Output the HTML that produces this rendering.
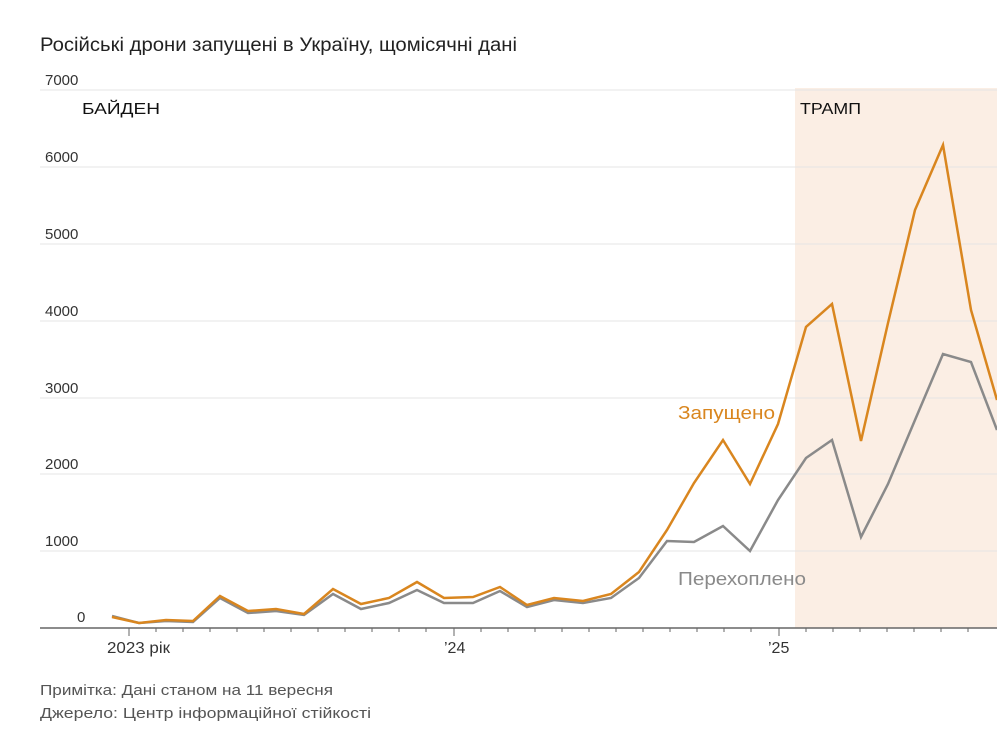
<!DOCTYPE html>
<html><head><meta charset="utf-8"><style>
body{margin:0;background:#fff;font-family:"Liberation Sans",sans-serif;}
</style></head><body>
<svg width="997" height="732" xmlns="http://www.w3.org/2000/svg" font-family="Liberation Sans, sans-serif">
<rect x="795" y="88" width="202" height="540" fill="#fbeee4"/>
<text x="40" y="51" font-size="19" fill="#222" textLength="477" lengthAdjust="spacingAndGlyphs">Російські дрони запущені в Україну, щомісячні дані</text>
<g stroke="#e4e4e4" stroke-width="1">
<line x1="40" x2="997" y1="90" y2="90"/><line x1="40" x2="997" y1="167" y2="167"/>
<line x1="40" x2="997" y1="244" y2="244"/><line x1="40" x2="997" y1="321" y2="321"/>
<line x1="40" x2="997" y1="398" y2="398"/><line x1="40" x2="997" y1="474" y2="474"/>
<line x1="40" x2="997" y1="551" y2="551"/>
</g>
<g font-size="15" fill="#333">
<text x="45" y="85">7000</text><text x="45" y="162">6000</text><text x="45" y="239">5000</text>
<text x="45" y="316">4000</text><text x="45" y="393">3000</text><text x="45" y="469">2000</text>
<text x="45" y="546">1000</text><text x="77" y="622">0</text>
</g>
<text x="82" y="114" font-size="16" fill="#111" textLength="78" lengthAdjust="spacingAndGlyphs">БАЙДЕН</text>
<text x="800" y="114" font-size="16" fill="#111" textLength="61" lengthAdjust="spacingAndGlyphs">ТРАМП</text>
<line x1="40" x2="997" y1="628" y2="628" stroke="#666" stroke-width="1.5"/>
<g stroke="#666" stroke-width="1">
<path d="M129 628v8M454 628v8M779 628v8"/>
<path d="M156 628v4M183 628v4M210 628v4M237 628v4M264 628v4M291 628v4M318 628v4M345 628v4M372 628v4M399 628v4M426 628v4M481 628v4M508 628v4M535 628v4M562 628v4M589 628v4M616 628v4M643 628v4M670 628v4M697 628v4M724 628v4M751 628v4M806 628v4M833 628v4M860 628v4M887 628v4M914 628v4M941 628v4M968 628v4"/>
</g>
<g font-size="16" fill="#333">
<text x="107" y="653" textLength="63" lengthAdjust="spacingAndGlyphs">2023 рік</text><text x="444" y="653">’24</text><text x="768" y="653">’25</text>
</g>
<polyline fill="none" stroke="#8a8a8a" stroke-width="2.5" points="112,616 139,623 166,621 193,622 220,598 248,613 276,611 304,615 333,594 361,609 389,603 417,590 444,603 473,603 500,591 527,607 554,600 583,603 611,598 639,578 667,541 694,542 723,526 750,551 778,500 806,458 832,440 861,537 888,484 915,420 943,354 971,362 997,430"/>
<polyline fill="none" stroke="#d9861f" stroke-width="2.5" points="112,617 139,623 166,620 193,621 220,596 248,611 276,609 304,614 333,589 361,604 389,598 417,582 444,598 473,597 500,587 527,605 554,598 583,601 611,594 639,572 667,530 694,483 723,440 750,484 778,424 806,327 832,304 861,441 888,323 915,210 943,145 971,310 997,400"/>
<text x="678" y="419" font-size="18" fill="#d9861f" textLength="97" lengthAdjust="spacingAndGlyphs">Запущено</text>
<text x="678" y="585" font-size="18" fill="#8a8a8a" textLength="128" lengthAdjust="spacingAndGlyphs">Перехоплено</text>
<text x="40" y="695" font-size="15" fill="#555" textLength="293" lengthAdjust="spacingAndGlyphs">Примітка: Дані станом на 11 вересня</text>
<text x="40" y="718" font-size="15" fill="#555" textLength="331" lengthAdjust="spacingAndGlyphs">Джерело: Центр інформаційної стійкості</text>
</svg>
</body></html>
